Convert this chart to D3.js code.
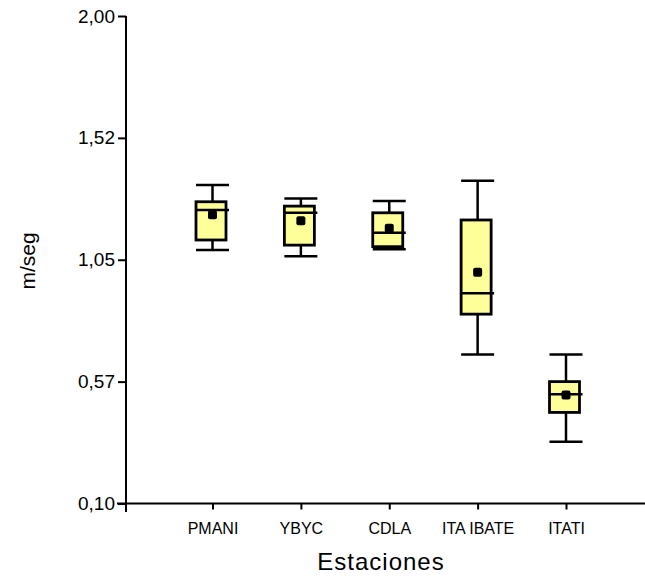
<!DOCTYPE html>
<html>
<head>
<meta charset="utf-8">
<script src="https://cdn.jsdelivr.net/npm/d3@7"></script>
<style>
  body { margin: 0; background: #fff; }
  svg { display: block; }
  text { font-family: "Liberation Sans", Arial, sans-serif; fill: #000; }
</style>
</head>
<body>
<svg id="chart" width="645" height="580"></svg>
<script>
// Velocidad (m/seg) por estación: resumen de caja y bigotes
const stations    = ["PMANI", "YBYC", "CDLA", "ITA IBATE", "ITATI"];
const whiskerLow  = [1.088, 1.064, 1.091, 0.681, 0.341];
const q1          = [1.127, 1.107, 1.101, 0.838, 0.455];
const median      = [1.244, 1.233, 1.155, 0.919, 0.526];
const q3          = [1.276, 1.259, 1.233, 1.205, 0.575];
const whiskerHigh = [1.341, 1.289, 1.279, 1.358, 0.681];
const mean        = [1.225, 1.202, 1.173, 1.001, 0.523];

const yTickValues = [0.10, 0.575, 1.05, 1.525, 2.00];
const yTickLabels = ["0,10", "0,57", "1,05", "1,52", "2,00"];

const svg = d3.select("#chart");

const axisX = 126, axisY = 503.5, topY = 16;
const y = d3.scaleLinear().domain([0.10, 2.00]).range([axisY, topY]);
const x = d3.scalePoint().domain(stations).range([212.5, 566]);

// Axis lines
svg.append("line").attr("x1", axisX).attr("x2", axisX).attr("y1", topY).attr("y2", 512)
  .attr("stroke", "#000").attr("stroke-width", 2);
svg.append("line").attr("x1", 117).attr("x2", 645).attr("y1", axisY).attr("y2", axisY)
  .attr("stroke", "#000").attr("stroke-width", 2);

// Y axis ticks and labels
const gy = svg.append("g").attr("transform", `translate(${axisX},0)`)
  .call(d3.axisLeft(y).tickValues(yTickValues)
    .tickFormat((d, i) => yTickLabels[i]).tickSize(8).tickPadding(3));
gy.select(".domain").remove();
gy.selectAll(".tick line").attr("stroke", "#000").attr("stroke-width", 2);
gy.selectAll(".tick text").attr("font-size", 19).attr("font-family", "Liberation Sans, Arial, sans-serif");

// X axis ticks and labels
const gx = svg.append("g").attr("transform", `translate(0,${axisY})`)
  .call(d3.axisBottom(x).tickSize(6).tickSizeOuter(0).tickPadding(13));
gx.select(".domain").remove();
gx.selectAll(".tick line").attr("stroke", "#000").attr("stroke-width", 2);
gx.selectAll(".tick text").attr("font-size", 16).attr("font-family", "Liberation Sans, Arial, sans-serif");

// Axis titles
svg.append("text").attr("x", 381).attr("y", 570).attr("text-anchor", "middle")
  .attr("font-size", 24).attr("letter-spacing", 1).text("Estaciones");
svg.append("text").attr("transform", "translate(35,261) rotate(-90)")
  .attr("text-anchor", "middle").attr("font-size", 21).text("m/seg");

// Boxes
const capHalf = 16.5, boxW = 30;
const g = svg.append("g").selectAll("g").data(stations).join("g");

g.append("line")
  .attr("x1", d => x(d)).attr("x2", d => x(d))
  .attr("y1", (d, i) => y(whiskerLow[i])).attr("y2", (d, i) => y(whiskerHigh[i]))
  .attr("stroke", "#000").attr("stroke-width", 2.5);

[whiskerLow, whiskerHigh].forEach(arr => {
  g.append("line")
    .attr("x1", d => x(d) - capHalf).attr("x2", d => x(d) + capHalf)
    .attr("y1", (d, i) => y(arr[i])).attr("y2", (d, i) => y(arr[i]))
    .attr("stroke", "#000").attr("stroke-width", 2.5);
});

g.append("rect")
  .attr("x", d => x(d) - capHalf).attr("width", boxW)
  .attr("y", (d, i) => y(q3[i])).attr("height", (d, i) => y(q1[i]) - y(q3[i]))
  .attr("fill", "#ffff99").attr("stroke", "#000").attr("stroke-width", 2.8);

g.append("line")
  .attr("x1", d => x(d) - capHalf).attr("x2", d => x(d) + capHalf)
  .attr("y1", (d, i) => y(median[i])).attr("y2", (d, i) => y(median[i]))
  .attr("stroke", "#000").attr("stroke-width", 2.5);

const ms = 9;
g.append("rect")
  .attr("x", d => x(d) - ms / 2).attr("y", (d, i) => y(mean[i]) - ms / 2)
  .attr("width", ms).attr("height", ms).attr("rx", 2)
  .attr("fill", "#000");
</script>
</body>
</html>
